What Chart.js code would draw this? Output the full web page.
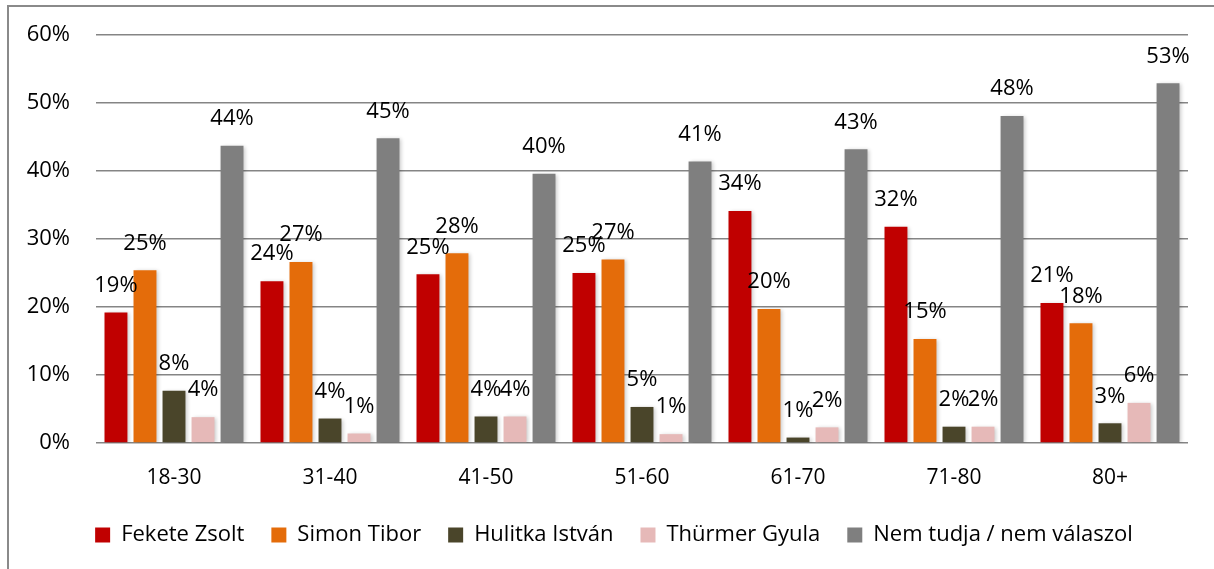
<!DOCTYPE html>
<html>
<head>
<meta charset="utf-8">
<script src="https://cdn.jsdelivr.net/npm/chart.js@4/dist/chart.umd.min.js"></script>
<style>
  html, body { margin: 0; padding: 0; background: #fff; overflow: hidden; }
  #wrap { position: absolute; left: 0; top: 0; width: 1214px; height: 569px; }
  #frame { position: absolute; left: 7px; top: 5px; width: 1230px; height: 600px;
           border-left: 2px solid #8a8a8a; border-top: 2px solid #8a8a8a; box-sizing: border-box; }
  canvas { position: absolute; left: 0; top: 0; }
</style>
</head>
<body>
<div id="wrap">
  <div id="frame"></div>
  <canvas id="c" width="1214" height="569"></canvas>
</div>
<script>
const categories = ['18-30', '31-40', '41-50', '51-60', '61-70', '71-80', '80+'];
const seriesNames = ['Fekete Zsolt', 'Simon Tibor', 'Hulitka István', 'Thürmer Gyula', 'Nem tudja / nem válaszol'];
const feketeZsolt   = [19.2, 23.8, 24.8, 25.0, 34.1, 31.8, 20.6];
const simonTibor    = [25.4, 26.6, 27.9, 27.0, 19.7, 15.3, 17.6];
const hulitkaIstvan = [7.7, 3.6, 3.9, 5.3, 0.8, 2.4, 2.9];
const thurmerGyula  = [3.8, 1.4, 3.9, 1.3, 2.3, 2.4, 5.9];
const nemTudja      = [43.7, 44.8, 39.6, 41.4, 43.2, 48.1, 52.9];
const yTicks = [0, 10, 20, 30, 40, 50, 60];
const colors = ['#C00000', '#E46C0A', '#4A452A', '#E6B9B8', '#7F7F7F'];

const FONT = "'Open Sans', sans-serif";
const allSeries = [feketeZsolt, simonTibor, hulitkaIstvan, thurmerGyula, nemTudja];

const shadowPlugin = {
  id: 'shadow',
  beforeDatasetsDraw(chart) {
    const ctx = chart.ctx;
    ctx.save();
    ctx.shadowColor = 'rgba(0,0,0,0.22)';
    ctx.shadowBlur = 4;
    ctx.shadowOffsetX = 2;
    ctx.shadowOffsetY = 1;
  },
  afterDatasetsDraw(chart) {
    chart.ctx.restore();
  }
};

const labelPlugin = {
  id: 'valueLabels',
  afterDatasetsDraw(chart) {
    const ctx = chart.ctx;
    ctx.save();
    ctx.font = '22px ' + FONT;
    ctx.fillStyle = '#000';
    ctx.textAlign = 'center';
    ctx.textBaseline = 'middle';
    chart.data.datasets.forEach((ds, di) => {
      const meta = chart.getDatasetMeta(di);
      meta.data.forEach((bar, i) => {
        ctx.fillText(Math.round(ds.data[i]) + '%', bar.x, bar.y - 27);
      });
    });
    ctx.restore();
  }
};

const legendShift = {
  id: 'legendShift',
  afterLayout(chart) {
    const lg = chart.legend;
    if (lg) { lg.left += 20; lg.right += 20; }
  }
};

new Chart(document.getElementById('c'), {
  type: 'bar',
  data: {
    labels: categories,
    datasets: allSeries.map((d, i) => ({
      label: seriesNames[i],
      data: d,
      backgroundColor: colors[i],
      borderWidth: 0,
      categoryPercentage: 0.93,
      barPercentage: 0.79
    }))
  },
  options: {
    responsive: false,
    animation: false,
    layout: { padding: { left: 0, right: 26, top: 35, bottom: 13 } },
    plugins: {
      legend: {
        position: 'bottom',
        labels: {
          font: { family: FONT, size: 22 },
          color: '#000',
          boxWidth: 15,
          boxHeight: 15,
          padding: 27
        }
      },
      tooltip: { enabled: false }
    },
    scales: {
      x: {
        grid: { display: false },
        border: { display: false },
        ticks: { font: { family: FONT, size: 21 }, color: '#000', padding: 14 },
        afterFit(s) { s.height = 54; }
      },
      y: {
        min: 0, max: 60,
        afterBuildTicks(s) { s.ticks = yTicks.map(v => ({ value: v })); },
        grid: { color: '#858585', lineWidth: 1.6, drawTicks: false },
        border: { display: false },
        ticks: {
          font: { family: FONT, size: 22 }, color: '#000', padding: 26,
          callback: v => v + '%'
        },
        afterFit(s) { s.width = 96; s.paddingTop = 0; s.paddingBottom = 0; }
      }
    }
  },
  plugins: [shadowPlugin, labelPlugin, legendShift]
});
</script>
</body>
</html>
